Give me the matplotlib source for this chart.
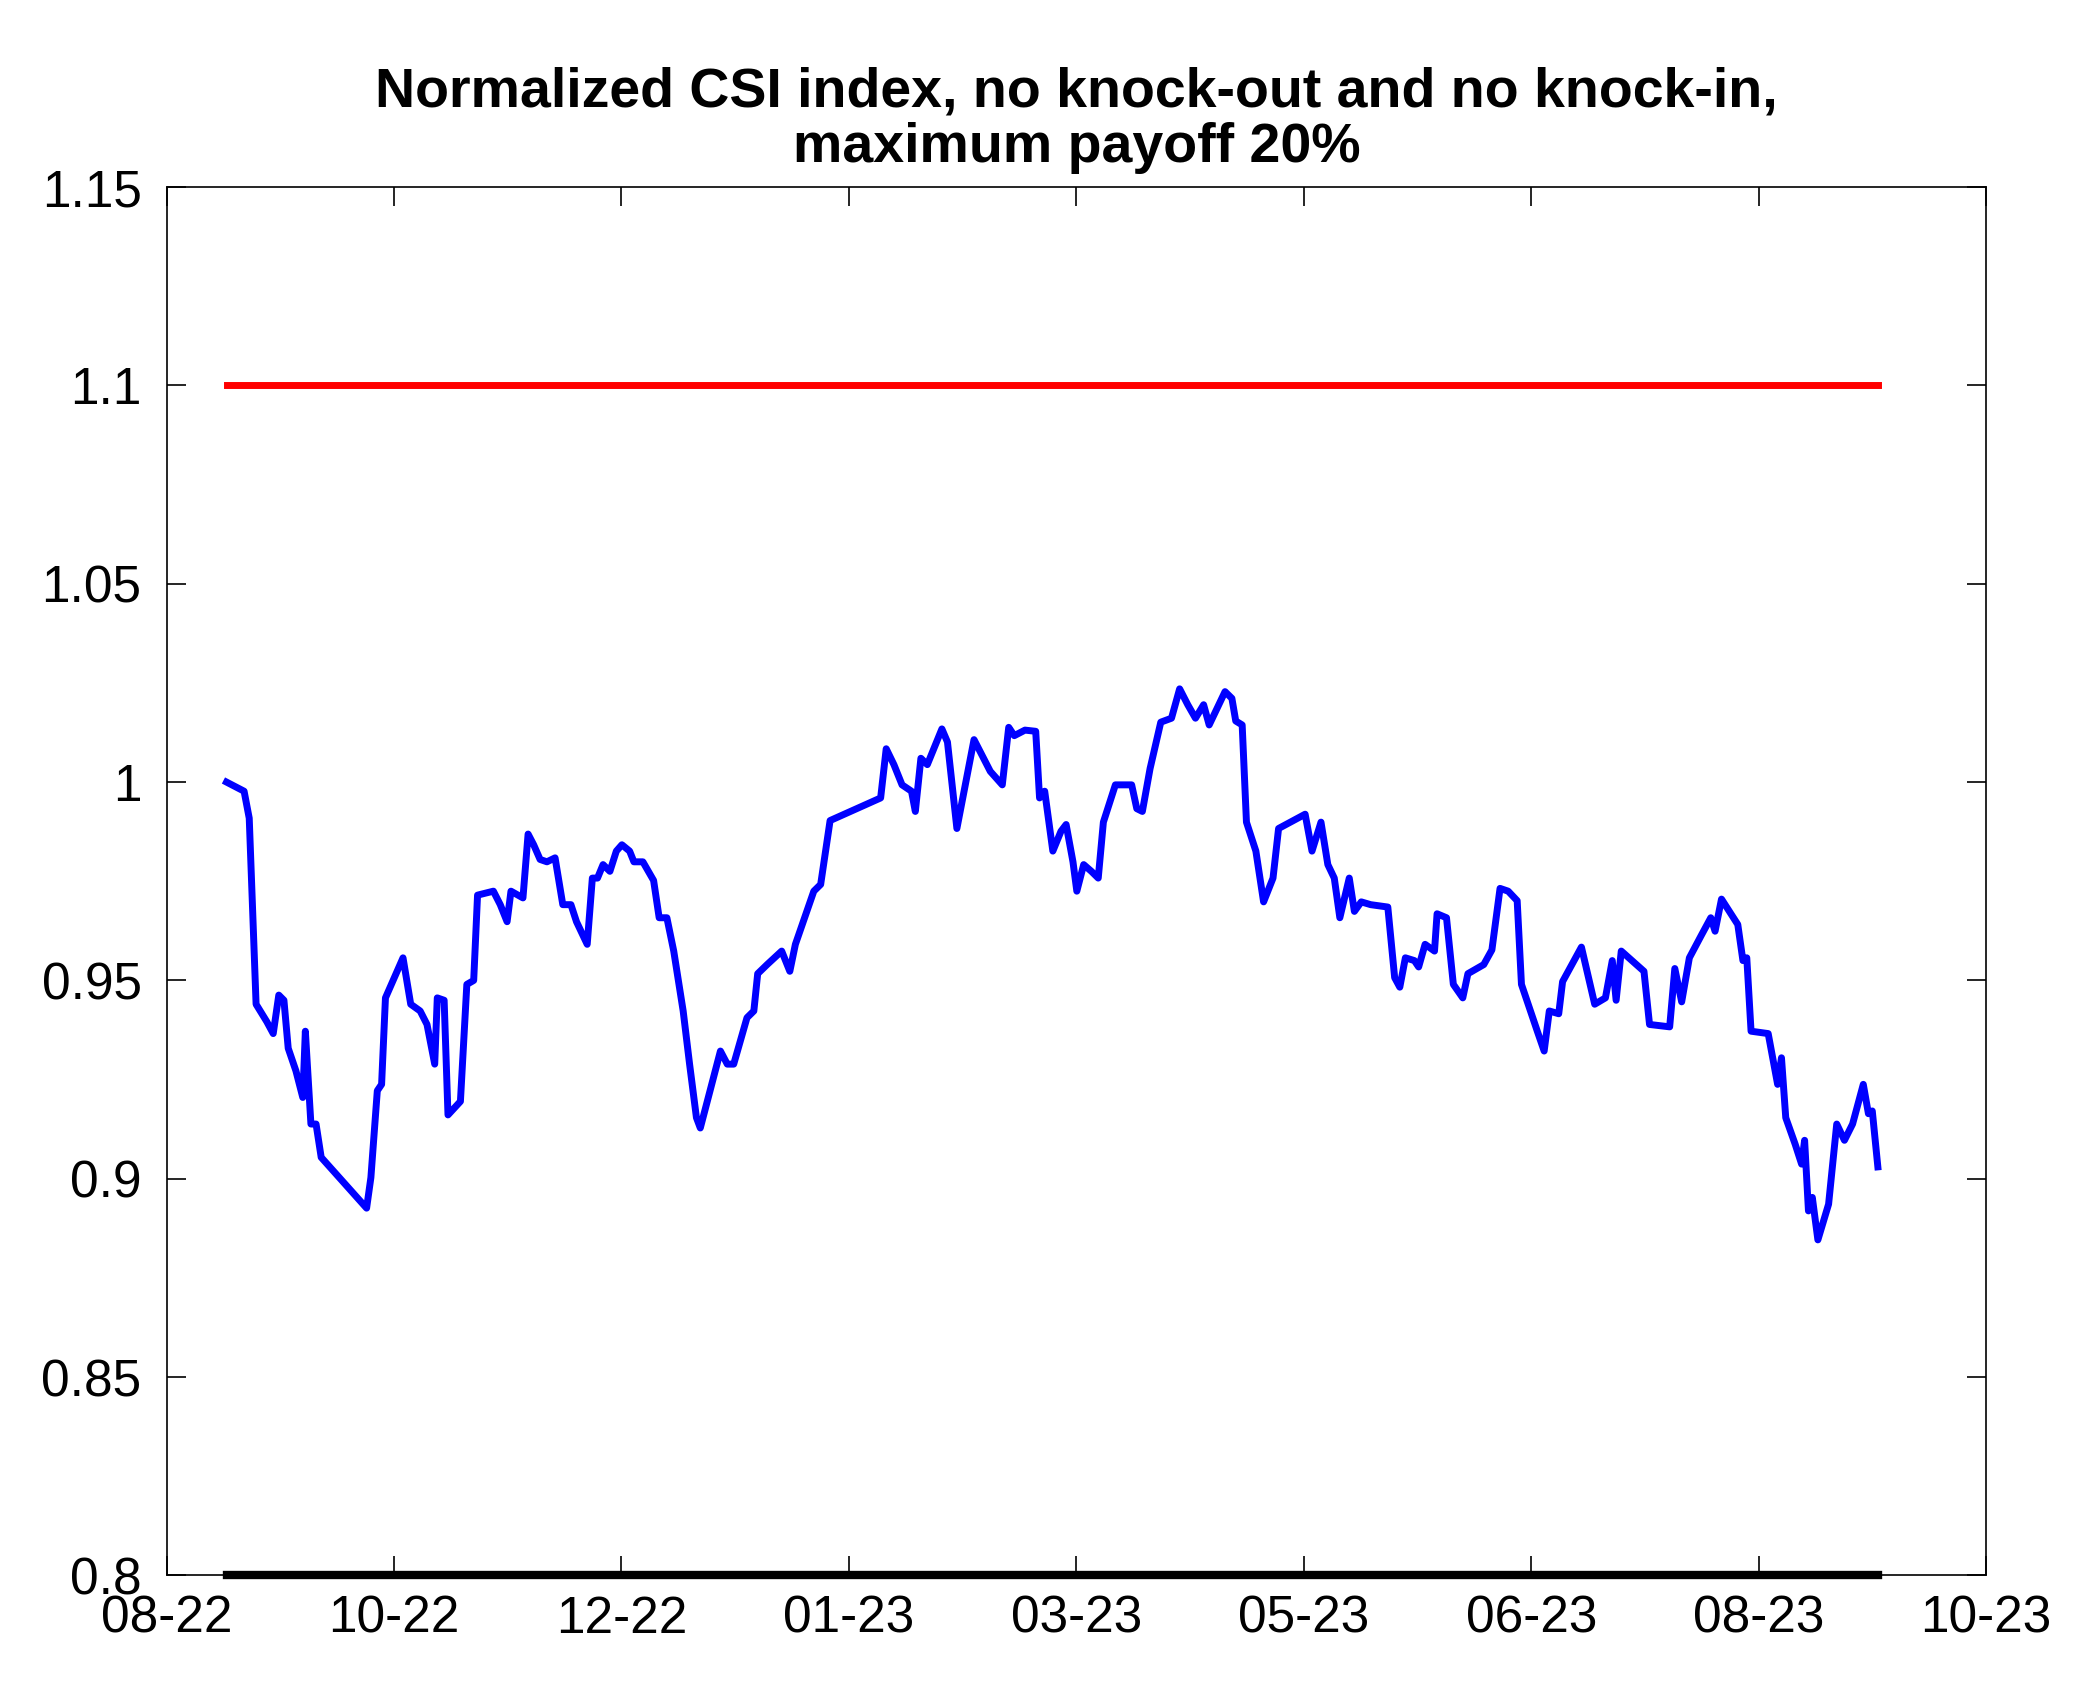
import matplotlib
matplotlib.use("Agg")
import matplotlib.pyplot as plt

plt.rcParams['font.family'] = ['Liberation Sans', 'DejaVu Sans']

days = [14.0,18.1,19.3,20.9,23.4,24.9,26.2,27.4,28.4,30.2,31.8,32.4,33.7,34.9,36.1,46.7,47.7,49.2,50.2,51.1,
55.2,57.0,59.2,60.8,62.6,63.2,64.8,65.7,68.6,70.1,71.7,72.6,76.3,77.9,79.5,80.4,83.2,84.4,85.7,87.2,
88.8,90.7,92.5,94.4,95.7,98.2,99.4,100.6,101.9,103.5,105.0,106.3,108.1,109.1,111.2,113.7,115.0,116.8,118.4,120.6,
122.1,123.7,124.6,129.3,130.9,132.4,135.5,137.1,138.0,140.2,143.6,145.5,146.8,151.1,152.7,154.9,166.7,168.0,169.8,171.7,
173.9,174.8,176.1,177.6,181.0,182.3,184.5,188.5,192.3,195.1,196.6,197.9,200.4,202.9,203.8,205.0,206.9,208.8,210.0,211.6,
212.5,214.1,215.9,217.5,218.7,221.5,225.3,226.5,227.8,229.6,232.1,234.6,236.5,238.4,240.2,242.1,243.4,247.1,248.7,249.6,
251.1,252.1,254.3,256.1,258.3,259.6,265.8,267.4,269.5,271.1,272.6,273.9,276.1,277.3,278.9,281.1,285.1,286.7,287.9,289.2,
291.3,292.3,293.8,296.0,296.6,298.8,300.4,302.6,303.8,307.5,309.4,311.3,313.2,315.3,316.3,320.0,321.6,322.8,325.0,325.9,
330.3,333.4,335.9,337.5,338.4,339.6,344.9,346.2,350.9,352.1,353.7,355.5,358.3,360.5,361.5,363.0,366.8,368.0,368.9,369.9,
373.9,376.1,377.0,378.0,380.2,381.7,382.4,383.3,384.2,385.5,388.0,389.9,391.7,393.6,396.1,397.3,398.2,399.5]

index = [1.0,0.9977,0.9909,0.9440,0.9396,0.9366,0.9463,0.9450,0.9329,0.9272,0.9205,0.9372,0.9138,0.9138,0.9054,0.8926,0.9003,0.9222,0.9238,0.9456,
0.9557,0.9440,0.9423,0.9389,0.9289,0.9456,0.9450,0.9161,0.9195,0.9490,0.9500,0.9715,0.9725,0.9691,0.9648,0.9725,0.9708,0.9869,0.9842,0.9805,
0.9799,0.9809,0.9691,0.9691,0.9648,0.9591,0.9758,0.9758,0.9792,0.9775,0.9826,0.9842,0.9826,0.9799,0.9799,0.9752,0.9658,0.9658,0.9574,0.9423,
0.9289,0.9154,0.9128,0.9322,0.9289,0.9289,0.9406,0.9423,0.9517,0.9540,0.9574,0.9523,0.9591,0.9725,0.9742,0.9903,0.9960,1.0084,1.0044,0.9993,
0.9977,0.9926,1.0060,1.0044,1.0134,1.0101,0.9883,1.0107,1.0027,0.9993,1.0138,1.0117,1.0131,1.0128,0.9960,0.9977,0.9826,0.9876,0.9893,0.9799,
0.9725,0.9792,0.9775,0.9758,0.9899,0.9993,0.9993,0.9933,0.9926,1.0034,1.0151,1.0161,1.0235,1.0195,1.0161,1.0195,1.0144,1.0228,1.0211,1.0154,
1.0144,0.9899,0.9826,0.9698,0.9758,0.9883,0.9919,0.9826,0.9899,0.9792,0.9758,0.9658,0.9758,0.9674,0.9698,0.9691,0.9685,0.9507,0.9483,0.9557,
0.9550,0.9534,0.9591,0.9574,0.9668,0.9658,0.9490,0.9456,0.9517,0.9540,0.9577,0.9732,0.9725,0.9701,0.9490,0.9372,0.9322,0.9423,0.9416,0.9497,
0.9584,0.9440,0.9456,0.9550,0.9450,0.9574,0.9523,0.9389,0.9383,0.9530,0.9446,0.9557,0.9614,0.9658,0.9624,0.9705,0.9641,0.9550,0.9557,0.9372,
0.9366,0.9238,0.9305,0.9154,0.9087,0.9037,0.9097,0.8919,0.8953,0.8846,0.8936,0.9138,0.9097,0.9138,0.9238,0.9164,0.9171,0.9030]

upper_barrier = 1.1
lower_barrier = 0.8
x_ticks = [0, 53.1, 106.2, 159.3, 212.4, 265.5, 318.6, 371.7, 424.8]
x_labels = ["08-22", "10-22", "12-22", "01-23", "03-23", "05-23", "06-23", "08-23", "10-23"]
y_ticks = [0.8, 0.85, 0.9, 0.95, 1.0, 1.05, 1.1, 1.15]
y_labels = ["0.8", "0.85", "0.9", "0.95", "1", "1.05", "1.1", "1.15"]

n = min(len(days), len(index))
days, index = days[:n], index[:n]

fig = plt.figure(figsize=(20.82, 16.85), dpi=100)
ax = fig.add_axes([0.080, 0.065, 0.874, 0.824])
ax.plot(days, index, color="#0000ff", lw=5, zorder=3)
ax.plot([days[0], days[-1]], [upper_barrier, upper_barrier], color="#ff0000", lw=5)
ax.plot([days[0], days[-1]], [lower_barrier, lower_barrier], color="black", lw=6, clip_on=False)
ax.set_xlim(x_ticks[0], x_ticks[-1])
ax.set_ylim(0.8, 1.15)
ax.set_xticks(x_ticks, x_labels)
ax.set_yticks(y_ticks, y_labels)
ax.tick_params(direction="in", length=14, width=1.2, labelsize=37, top=True, right=True)
ax.tick_params(axis="x", pad=14)
ax.tick_params(axis="y", pad=18)
for s in ax.spines.values():
    s.set_linewidth(1.2)
ax.set_title("Normalized CSI index, no knock-out and no knock-in,\nmaximum payoff 20%",
             fontsize=40, fontweight="bold", pad=18, linespacing=1.1)
fig.savefig("out.png", dpi=100)
